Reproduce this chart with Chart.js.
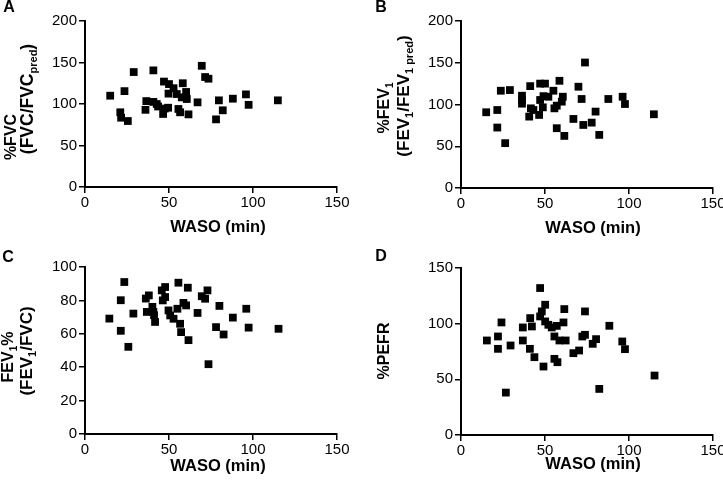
<!DOCTYPE html>
<html>
<head>
<meta charset="utf-8">
<script src="https://cdn.jsdelivr.net/npm/chart.js@4/dist/chart.umd.min.js"></script>
<style>
  html, body { margin: 0; padding: 0; background: #fff; overflow: hidden; width: 723px; height: 482px; }
  .panel { position: absolute; }
</style>
</head>
<body>
<div class="panel" style="left:0;top:0;width:361px;height:241px"><canvas id="cA"></canvas></div>
<div class="panel" style="left:361px;top:0;width:375px;height:241px"><canvas id="cB"></canvas></div>
<div class="panel" style="left:0;top:241px;width:361px;height:241px"><canvas id="cC"></canvas></div>
<div class="panel" style="left:361px;top:241px;width:375px;height:241px"><canvas id="cD"></canvas></div>
<script>
// ---------- DATA ----------
const xTicks = [0, 50, 100, 150];

// Panel A: %FVC vs WASO
const wasoA = [15, 21, 21.5, 25.5, 23.5, 29, 36, 36.5, 40.7, 40.7, 42.7, 43.5, 46.5, 47.5, 47, 49.5, 49.7, 50, 52.7, 54.6, 55.6, 56.6, 58.2, 57.6, 60.2, 60.6, 61.6, 67, 69.5, 71.5, 73.5, 78, 79.7, 82, 88, 95.8, 97.4, 114.8];
const fvcPct = [110, 90, 83.5, 79.5, 115.5, 138.5, 93, 103.5, 140.5, 102.5, 100, 97, 88, 94.5, 127, 95.5, 112.5, 124, 119, 112, 94, 90, 125, 108, 114.5, 106, 87.5, 102, 146, 132.5, 130.5, 81.5, 104.4, 92.4, 106.4, 111.6, 99, 104.4];

// Panel B: %FEV1 vs WASO
const wasoB = [15, 21.6, 21.6, 23.7, 26.3, 29.1, 36.3, 36.3, 36.3, 41.2, 40.6, 41.6, 43.1, 47.1, 46.5, 48.7, 49.1, 50, 47.1, 52, 55, 55.6, 57, 58.6, 57, 60.6, 60, 61.5, 66.9, 69.9, 71.8, 72.8, 73.8, 77.8, 80.1, 82.3, 87.7, 96.2, 97.6, 114.8];
const fev1Pct = [90.7, 93.4, 72.4, 116.5, 53.7, 117.3, 110.5, 105, 101, 122, 85.5, 95.4, 93.4, 105.4, 87.5, 96.6, 110, 125, 125, 109.3, 116.5, 95.4, 98.6, 128.4, 71.6, 109.3, 103.4, 62.4, 82.7, 121.3, 106.6, 75.5, 150.3, 78.3, 91.5, 63.6, 106.6, 109.3, 100.6, 88.3];

// Panel C: FEV1% (FEV1/FVC) vs WASO
const wasoC = [14.5, 21.3, 21.3, 23.4, 25.8, 28.8, 36.2, 36.8, 38, 40.1, 40.7, 41.1, 41.7, 45.7, 47.7, 46.3, 47.7, 49.7, 50.7, 52.7, 55.6, 55, 56.6, 57.2, 58.6, 60.2, 61.2, 61.6, 67, 69.5, 71.5, 72.9, 73.5, 80, 78, 82.5, 88, 96, 97.4, 115.2];
const fev1Fvc = [69.1, 80.1, 61.8, 91, 52.2, 72.1, 81.1, 73.1, 83, 76.1, 73.1, 71.1, 67.1, 86, 88, 80, 82, 74, 71, 69, 90.6, 75, 66, 61, 78.5, 77, 87.6, 56.2, 72.5, 82.5, 81, 86, 41.8, 76.7, 64, 59.6, 69.7, 75, 63.7, 63];

// Panel D: %PEFR vs WASO
const wasoD = [15.4, 22, 22, 24.1, 26.7, 29.5, 36.8, 36.8, 41.2, 42.2, 41, 43.7, 47.1, 47.1, 48.1, 49.1, 50.1, 50.1, 52, 54, 55.6, 57, 55.6, 57.4, 58.6, 61, 61.5, 62.3, 66.9, 70.3, 72.2, 73.8, 73.8, 78.4, 80.4, 82.3, 88.3, 96, 97.6, 115.2];
const pefrPct = [84.9, 88.5, 77.4, 101.1, 38.1, 80.4, 96.6, 84.9, 105, 97.5, 77.4, 69.9, 132, 106.5, 111, 61.5, 117, 102, 99, 96.6, 88.5, 98, 68.4, 65.4, 84.9, 101.1, 113.1, 84.9, 73.5, 75.9, 88.5, 111, 90, 81.9, 86.1, 41.4, 98.1, 84, 77.1, 53.4];

// ---------- RENDERING ----------
const FAMILY = '"Liberation Sans", Arial, sans-serif';

function parseRich(s) {
  const parts = [];
  const re = /_\{([^}]*)\}/g;
  let last = 0, m;
  while ((m = re.exec(s)) !== null) {
    if (m.index > last) parts.push({ t: s.slice(last, m.index), sub: false });
    parts.push({ t: m[1], sub: true });
    last = re.lastIndex;
  }
  if (last < s.length) parts.push({ t: s.slice(last), sub: false });
  return parts;
}

function drawRich(ctx, it) {
  const size = it.size || 16;
  const mainFont = 'bold ' + size + 'px ' + FAMILY;
  const subFont = 'bold ' + Math.round(size * 0.65) + 'px ' + FAMILY;
  const parts = parseRich(it.text);
  ctx.save();
  ctx.translate(it.x, it.y);
  ctx.rotate(it.rot || 0);
  let total = 0;
  parts.forEach(p => { ctx.font = p.sub ? subFont : mainFont; p.w = ctx.measureText(p.t).width; total += p.w; });
  let x = -total / 2;
  ctx.fillStyle = '#000';
  ctx.textAlign = 'left';
  ctx.textBaseline = 'middle';
  parts.forEach(p => {
    ctx.font = p.sub ? subFont : mainFont;
    ctx.fillText(p.t, x, p.sub ? size * 0.33 : 0);
    x += p.w;
  });
  ctx.restore();
}

const textPlugin = {
  id: 'richText',
  afterDraw(chart, args, opts) {
    (opts.items || []).forEach(it => drawRich(chart.ctx, it));
  }
};

function makeChart(id, xs, ys, yMax, yStep, geom, items) {
  const pts = xs.map((x, i) => ({ x: x, y: ys[i] }));
  return new Chart(document.getElementById(id), {
    type: 'scatter',
    data: { datasets: [{ data: pts, pointStyle: 'rect', pointRadius: 5.5, pointHoverRadius: 5.5,
      backgroundColor: '#000', borderColor: '#000', borderWidth: 0 }] },
    options: {
      responsive: true, maintainAspectRatio: false, animation: false, events: [],
      layout: { padding: { left: 0, top: geom.top, right: geom.right, bottom: 0 } },
      plugins: { legend: { display: false }, tooltip: { enabled: false }, richText: { items: items } },
      scales: {
        x: {
          type: 'linear', min: 0, max: 150,
          afterBuildTicks: s => { s.ticks = xTicks.map(v => ({ value: v })); },
          afterFit: s => { s.height = geom.xh; },
          border: { color: '#000', width: 2 },
          grid: { display: true, drawOnChartArea: false, drawTicks: true, tickLength: 6, color: '#000', lineWidth: 1.5 },
          ticks: { color: '#000', font: { family: FAMILY, size: 15 }, padding: 1, maxRotation: 0 }
        },
        y: {
          type: 'linear', min: 0, max: yMax,
          ticks: { stepSize: yStep, color: '#000', font: { family: FAMILY, size: 15 }, padding: 2 },
          afterFit: s => { s.width = geom.yw; },
          border: { color: '#000', width: 2 },
          grid: { display: true, drawOnChartArea: false, drawTicks: true, tickLength: 6, color: '#000', lineWidth: 1.5 }
        }
      }
    },
    plugins: [textPlugin]
  });
}

const R = -Math.PI / 2;

makeChart('cA', wasoA, fvcPct, 200, 50, { top: 21, right: 24, xh: 54, yw: 85 }, [
  { text: 'A', x: 9, y: 8 },
  { text: 'WASO (min)', x: 218, y: 227, size: 16.5 },
  { text: '%FVC', x: 12, y: 137, rot: R },
  { text: '(FVC/FVC_{pred})', x: 28, y: 99, rot: R, size: 17.5 }
]);

makeChart('cB', wasoB, fev1Pct, 200, 50, { top: 21, right: 23, xh: 53, yw: 100 }, [
  { text: 'B', x: 20, y: 8 },
  { text: 'WASO (min)', x: 232, y: 228, size: 16.5 },
  { text: '%FEV_{1}', x: 24, y: 108, rot: R },
  { text: '(FEV_{1}/FEV_{1 pred})', x: 43, y: 96, rot: R, size: 17 }
]);

makeChart('cC', wasoC, fev1Fvc, 100, 20, { top: 26, right: 24, xh: 48, yw: 85 }, [
  { text: 'C', x: 8, y: 17 },
  { text: 'WASO (min)', x: 218, y: 225, size: 16.5 },
  { text: 'FEV_{1}%', x: 9, y: 116, rot: R },
  { text: '(FEV_{1}/FVC)', x: 27, y: 110, rot: R, size: 17 }
]);

makeChart('cD', wasoD, pefrPct, 150, 50, { top: 27, right: 23, xh: 47, yw: 100 }, [
  { text: 'D', x: 20, y: 16 },
  { text: 'WASO (min)', x: 232, y: 223, size: 16.5 },
  { text: '%PEFR', x: 24, y: 110, rot: R }
]);
</script>
</body>
</html>
